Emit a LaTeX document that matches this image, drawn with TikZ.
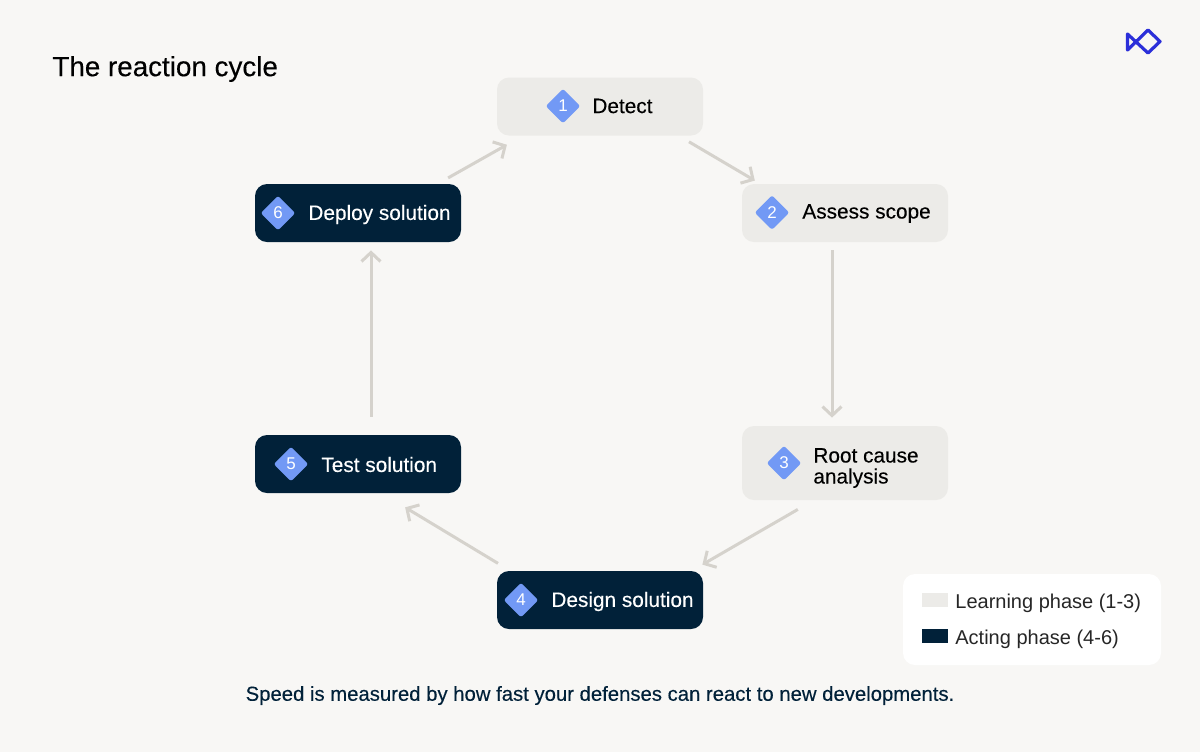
\documentclass[tikz,border=0pt]{standalone}
\usepackage{fontspec}
\setmainfont{Liberation Sans}
\newfontfamily\medfont[FakeBold=0.25]{Liberation Sans}
\usetikzlibrary{arrows.meta,calc}
\definecolor{bgc}{HTML}{F8F7F5}
\definecolor{lightbox}{HTML}{ECEBE8}
\definecolor{darkbox}{HTML}{012139}
\definecolor{badgec}{HTML}{7299F5}
\definecolor{arrowc}{HTML}{D5D2CC}
\definecolor{logoc}{HTML}{2B2FD9}
\tikzset{
  x=0.5pt,y=-0.5pt,
  stepbase/.style={rectangle,rounded corners=6pt,minimum width=103pt,minimum height=29pt,inner sep=0pt},
  lightstep/.style={stepbase,fill=lightbox},
  darkstep/.style={stepbase,fill=darkbox},
  badge/.style={rectangle,rotate=45,fill=badgec,rounded corners=1.2pt,minimum size=12.2pt,inner sep=0pt},
  badgenum/.style={text=white,font=\fontsize{8.5}{10}\selectfont,inner sep=0pt},
  steplabel/.style={anchor=west,inner sep=0pt,font=\medfont\fontsize{10.4}{10.5}\selectfont,align=left},
  flow/.style={draw=arrowc,line width=1.5pt,-{Straight Barb[length=4.5pt,width=9.5pt,line width=1.5pt]}},
  legendtext/.style={anchor=west,inner sep=0pt,font=\fontsize{10}{12}\selectfont,text=black!85},
  swatch/.style={rectangle,minimum width=13pt,minimum height=7pt,inner sep=0pt}
}
\begin{document}
\begin{tikzpicture}
\useasboundingbox (0,0) rectangle (1200,752);
\fill[bgc] (0,0) rectangle (1200,752);
\node[anchor=west,inner sep=0pt,font=\medfont\fontsize{13.9}{15}\selectfont] (title) at (52,69) {The reaction cycle};
% logo
\draw[logoc,line width=1.6pt,line join=round,line cap=round] (1127.5,34) -- (1127.5,50) -- (1148,30) -- (1160,41.5) -- (1148,53) -- cycle;
% steps
\node[lightstep] (n1) at (600,106.5) {};
\node[lightstep] (n2) at (845,213) {};
\node[lightstep,minimum height=37pt] (n3) at (845,463) {};
\node[darkstep] (n4) at (600,600) {};
\node[darkstep] (n5) at (358,464) {};
\node[darkstep] (n6) at (358,213) {};
% badges
\node[badge] (b1) at (563,106) {}; \node[badgenum] (k1) at (b1) {1};
\node[badge] (b2) at (772,212.5) {}; \node[badgenum] (k2) at (b2) {2};
\node[badge] (b3) at (784,463) {}; \node[badgenum] (k3) at (b3) {3};
\node[badge] (b4) at (521,600) {}; \node[badgenum] (k4) at (b4) {4};
\node[badge] (b5) at (291,464) {}; \node[badgenum] (k5) at (b5) {5};
\node[badge] (b6) at (278,213) {}; \node[badgenum] (k6) at (b6) {6};
% labels
\node[steplabel] (t1) at (592,106) {Detect};
\node[steplabel] (t2) at (802,213.5) {Assess scope};
\node[steplabel] (t3) at (813,468) {Root cause\\analysis};
\node[steplabel,text=white] (t4) at (551,601.5) {Design solution};
\node[steplabel,text=white] (t5) at (321,464.5) {Test solution};
\node[steplabel,text=white] (t6) at (308,214.5) {Deploy solution};
% connectors
\draw[flow,shorten <=5.8pt,shorten >=9pt] ($(n6.north)+(80,0)$) -- ($(n1.south)+(-77.4,0)$);
\draw[flow,shorten <=5.8pt,shorten >=3pt] ($(n1.south)+(79,0)$) -- ($(n2.north)+(-85,0)$);
\draw[flow,shorten <=4pt,shorten >=4pt] ($(n2.south)+(-13,0)$) -- ($(n3.north)+(-13,0)$);
\draw[flow,shorten <=9pt,shorten >=6pt] ($(n3.south)+(-31.6,0)$) -- ($(n4.north)+(92,0)$);
\draw[flow,shorten <=7pt,shorten >=13.5pt] ($(n4.north)+(-90,0)$) -- ($(n5.south)+(24,0)$);
\draw[flow,shorten <=9pt,shorten >=4pt] ($(n5.north)+(13,0)$) -- ($(n6.south)+(13,0)$);
% legend
\node[rectangle,fill=white,rounded corners=6pt,minimum width=129pt,minimum height=45.5pt,inner sep=0pt] (legend) at (1032,619.5) {};
\node[swatch,fill=lightbox] (s1) at (935,600) {};
\node[swatch,fill=darkbox] (s2) at (935,635.5) {};
\node[legendtext] (l1) at (955,603) {Learning phase (1-3)};
\node[legendtext] (l2) at (955,639) {Acting phase (4-6)};
% caption
\node[inner sep=0pt,text=darkbox,font=\medfont\fontsize{10.15}{12}\selectfont] (cap) at (600,695.5) {Speed is measured by how fast your defenses can react to new developments.};
\end{tikzpicture}
\end{document}
